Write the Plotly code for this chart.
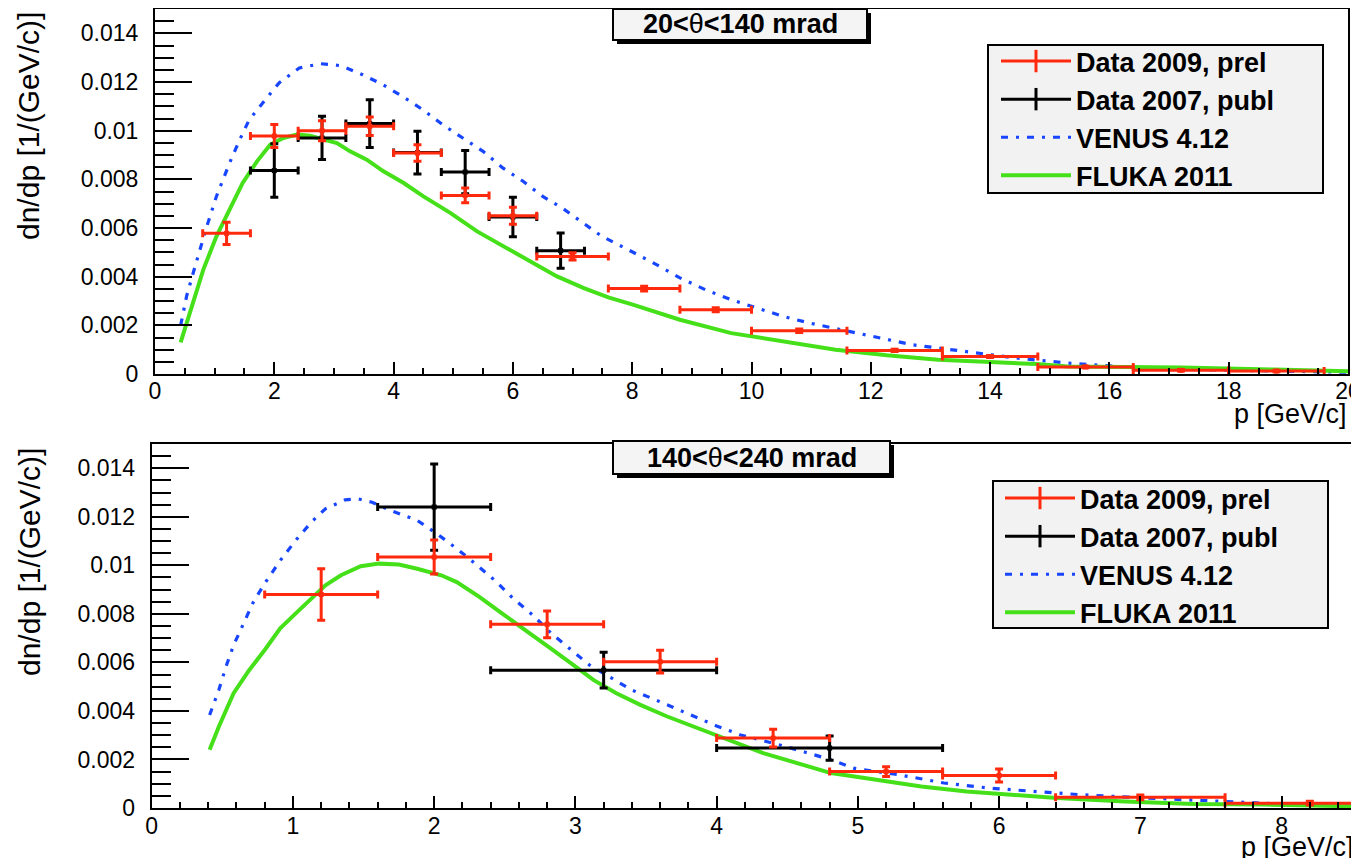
import plotly.graph_objects as go

W, H = 1359, 858          # browser window
OFF = 8                   # default body margin of the written page
FW, FH = W - OFF, H - OFF  # figure size so that it ends at the window edge
FONT = "Liberation Sans, Arial, Helvetica, sans-serif"
RED = "#ff2a0d"
BLACK = "#000000"
BLUE = "#1846ff"
GREEN = "#46e01a"

# ---------------- top panel: 20<theta<140 mrad ----------------
top_red_p = [1.2, 2.0, 2.8, 3.6, 4.4, 5.2, 6.0, 7.0, 8.2, 9.4, 10.8, 12.4, 14.0, 15.6, 17.2, 18.8]
top_red_dp = [0.4, 0.4, 0.4, 0.4, 0.4, 0.4, 0.4, 0.6, 0.6, 0.6, 0.8, 0.8, 0.8, 0.8, 0.8, 0.8]
top_red_v = [0.00578, 0.00978, 0.0100, 0.01018, 0.00908, 0.00734, 0.0065, 0.00483, 0.00351,
             0.00264, 0.00178, 0.00097, 0.00072, 0.00029, 0.00015, 0.00012]
top_red_dv = [0.00046, 0.00047, 0.00041, 0.00038, 0.00034, 0.0003, 0.00035, 0.00015, 0.0001,
              0.00008, 0.00007, 0.00005, 0.00004, 0.00003, 0.00003, 0.00003]

top_blk_p = [2.0, 2.8, 3.6, 4.4, 5.2, 6.0, 6.8]
top_blk_dp = [0.4, 0.4, 0.4, 0.4, 0.4, 0.4, 0.4]
top_blk_v = [0.00836, 0.0097, 0.01029, 0.0091, 0.0083, 0.00645, 0.00507]
top_blk_dv = [0.0011, 0.00089, 0.00098, 0.00088, 0.00089, 0.00081, 0.00072]

top_venus_p = [0.43, 0.53, 0.64, 0.75, 0.86, 1.03, 1.25, 1.42, 1.58, 1.86, 2.08, 2.42, 2.78, 3.12,
               3.48, 3.82, 4.15, 4.49, 4.82, 5.16, 5.5, 5.83, 6.17, 6.5, 6.84, 7.18, 7.49, 7.93,
               8.36, 8.8, 9.23, 9.66, 10.1, 10.53, 10.96, 11.49, 12.0, 12.7, 13.57, 14.43, 15.3,
               16.17, 17.47, 18.77, 20.0]
top_venus_v = [0.0020, 0.0032, 0.00415, 0.0051, 0.0060, 0.0073, 0.00867, 0.00963, 0.01045, 0.0113,
               0.01196, 0.01258, 0.01275, 0.01267, 0.0123, 0.01189, 0.01141, 0.01086, 0.01025,
               0.0097, 0.00915, 0.00847, 0.00792, 0.0073, 0.0068, 0.0062, 0.00566, 0.00511,
               0.00456, 0.00395, 0.00346, 0.00305, 0.00271, 0.00237, 0.0021, 0.00182, 0.00155,
               0.0012, 0.00093, 0.00066, 0.00045, 0.00031, 0.00018, 0.00011, 0.00007]

top_fluka_p = [0.43, 0.53, 0.64, 0.81, 1.03, 1.25, 1.47, 1.71, 1.93, 2.15, 2.38, 2.6, 2.82, 3.05,
               3.27, 3.55, 3.83, 4.17, 4.5, 4.95, 5.4, 5.84, 6.29, 6.74, 7.19, 7.6, 8.01, 8.8,
               9.66, 10.53, 11.41, 12.27, 13.13, 14.0, 14.78, 15.3, 17.2, 18.77, 20.0]
top_fluka_v = [0.0013, 0.0021, 0.00305, 0.00429, 0.00566, 0.00675, 0.00785, 0.00874, 0.00942,
               0.0097, 0.00984, 0.00979, 0.00966, 0.00949, 0.00915, 0.00881, 0.00833, 0.00785,
               0.0073, 0.00662, 0.00586, 0.00524, 0.00463, 0.00401, 0.00353, 0.00315, 0.00285,
               0.00223, 0.00168, 0.00134, 0.0010, 0.00077, 0.00059, 0.00049, 0.00041, 0.00031,
               0.00027, 0.00018, 0.00011]

# ---------------- bottom panel: 140<theta<240 mrad ----------------
bot_red_p = [1.2, 2.0, 2.8, 3.6, 4.4, 5.2, 6.0, 7.0, 8.2]
bot_red_dp = [0.4, 0.4, 0.4, 0.4, 0.4, 0.4, 0.4, 0.6, 0.6]
bot_red_v = [0.0088, 0.01034, 0.00757, 0.00603, 0.00288, 0.0015, 0.00134, 0.00044, 0.0002]
bot_red_dv = [0.00106, 0.0007, 0.00055, 0.00047, 0.00037, 0.0002, 0.00027, 0.0001, 0.00008]

bot_blk_p = [2.0, 3.2, 4.8]
bot_blk_dp = [0.4, 0.8, 0.8]
bot_blk_v = [0.0124, 0.00568, 0.00247]
bot_blk_dv = [0.00178, 0.00074, 0.0005]

bot_venus_p = [0.41, 0.475, 0.53, 0.58, 0.65, 0.72, 0.8, 0.91, 1.02, 1.13, 1.23, 1.37, 1.46, 1.56,
               1.69, 1.88, 2.02, 2.16, 2.29, 2.43, 2.56, 2.7, 2.83, 2.97, 3.1, 3.24, 3.4, 3.57,
               3.73, 3.89, 4.0, 4.17, 4.49, 4.81, 4.97, 5.29, 5.61, 5.93, 6.25, 6.57, 7.05, 7.54,
               8.02, 8.52]
bot_venus_v = [0.00383, 0.00486, 0.00589, 0.00671, 0.0076, 0.00849, 0.00925, 0.0102, 0.01103,
               0.01178, 0.01233, 0.0127, 0.01274, 0.0126, 0.01226, 0.01185, 0.0113, 0.01069,
               0.01007, 0.00938, 0.00863, 0.00794, 0.00719, 0.00651, 0.00589, 0.00541, 0.00486,
               0.00445, 0.00404, 0.00363, 0.00338, 0.00301, 0.00253, 0.00199, 0.00164, 0.00137,
               0.00103, 0.00082, 0.00068, 0.00055, 0.00041, 0.00027, 0.00016, 0.00011]

bot_fluka_p = [0.41, 0.475, 0.58, 0.69, 0.8, 0.91, 1.02, 1.13, 1.23, 1.34, 1.48, 1.61, 1.75, 1.88,
               2.05, 2.16, 2.32, 2.48, 2.64, 2.81, 2.97, 3.13, 3.29, 3.46, 3.65, 3.84, 4.0, 4.2,
               4.33, 4.81, 5.13, 5.45, 5.77, 6.09, 6.41, 6.89, 7.38, 7.86, 8.52]
bot_fluka_v = [0.0024, 0.00335, 0.00473, 0.00568, 0.00651, 0.0074, 0.00802, 0.00863, 0.00918,
               0.00959, 0.00996, 0.01007, 0.01003, 0.00986, 0.00959, 0.00931, 0.0087, 0.00802,
               0.00733, 0.00664, 0.00596, 0.00527, 0.00473, 0.00425, 0.00377, 0.00335, 0.00298,
               0.00255, 0.00226, 0.00144, 0.00116, 0.00089, 0.00068, 0.00055, 0.00041, 0.00027,
               0.00016, 0.00014, 0.00007]

# ---------------- axis ticks / labels ----------------
y_tickvals = [0, 0.002, 0.004, 0.006, 0.008, 0.010, 0.012, 0.014]
y_ticktext = ["0", "0.002", "0.004", "0.006", "0.008", "0.01", "0.012", "0.014"]
top_x_tickvals = [0, 2, 4, 6, 8, 10, 12, 14, 16, 18, 20]
top_x_ticktext = ["0", "2", "4", "6", "8", "10", "12", "14", "16", "18", "20"]
bot_x_tickvals = [0, 1, 2, 3, 4, 5, 6, 7, 8]
bot_x_ticktext = ["0", "1", "2", "3", "4", "5", "6", "7", "8"]

series_names = ["Data 2009, prel", "Data 2007, publ", "VENUS 4.12", "FLUKA 2011"]
panel_titles = ["20<θ<140 mrad", "140<θ<240 mrad"]
y_title = "dn/dp [1/(GeV/c)]"
x_title = "p [GeV/c]"


def clamp(v):
    return max(0.0, min(1.0, v))


def px_x(p):
    """window pixel (from left) -> paper fraction"""
    return (p - OFF) / FW


def px_y(p):
    """window pixel (from top) -> paper fraction"""
    return 1 - (p - OFF) / FH


fig = go.Figure()


def add_panel(xa, ya, leg, red, blk, venus, fluka, tag):
    # model curves
    fig.add_trace(go.Scatter(x=venus[0], y=venus[1], mode="lines", xaxis=xa, yaxis=ya,
                             line=dict(color=BLUE, width=3.2, dash="7px,8px,3px,8px"),
                             name=series_names[2], legend=leg, legendrank=3,
                             legendgroup=tag + "v"))
    fig.add_trace(go.Scatter(x=fluka[0], y=fluka[1], mode="lines", xaxis=xa, yaxis=ya,
                             line=dict(color=GREEN, width=4),
                             name=series_names[3], legend=leg, legendrank=4,
                             legendgroup=tag + "f"))
    # data with error bars (black first, red on top)
    for (p, dp, v, dv), col in ((blk, BLACK), (red, RED)):
        fig.add_trace(go.Scatter(
            x=p, y=v, mode="markers", xaxis=xa, yaxis=ya, showlegend=False,
            marker=dict(color=col, size=5, symbol="square"),
            error_x=dict(type="data", array=dp, color=col, thickness=3, width=4),
            error_y=dict(type="data", array=dv, color=col, thickness=3, width=4),
            cliponaxis=True))
    # legend entries for the data (cross-like symbols)
    for name, col, rank in ((series_names[0], RED, 1), (series_names[1], BLACK, 2)):
        fig.add_trace(go.Scatter(
            x=[None], y=[None], mode="lines+markers", xaxis=xa, yaxis=ya,
            line=dict(color=col, width=3),
            marker=dict(symbol="line-ns-open", size=16, color=col, line=dict(color=col, width=3)),
            name=name, legend=leg, legendrank=rank, legendgroup=tag + str(rank)))


add_panel("x", "y", "legend",
          (top_red_p, top_red_dp, top_red_v, top_red_dv),
          (top_blk_p, top_blk_dp, top_blk_v, top_blk_dv),
          (top_venus_p, top_venus_v), (top_fluka_p, top_fluka_v), "t")
add_panel("x2", "y2", "legend2",
          (bot_red_p, bot_red_dp, bot_red_v, bot_red_dv),
          (bot_blk_p, bot_blk_dp, bot_blk_v, bot_blk_dv),
          (bot_venus_p, bot_venus_v), (bot_fluka_p, bot_fluka_v), "b")

common_axis = dict(showline=True, linewidth=2, linecolor="black", mirror=True,
                   showgrid=False, zeroline=False, ticks="inside", tickcolor="black",
                   tickwidth=2, automargin=False, ticklabeloverflow="allow",
                   tickfont=dict(family=FONT, size=23, color="black"))

legend_font = dict(family=FONT, size=27, color="black", weight="bold")

fig.update_layout(
    template="none",
    width=FW, height=FH,
    margin=dict(l=0, r=0, t=0, b=0, pad=0),
    paper_bgcolor="white", plot_bgcolor="white",
    showlegend=True,
    xaxis=dict(common_axis, domain=[clamp(px_x(155)), clamp(px_x(1348))], range=[0, 20],
               anchor="y", tickvals=top_x_tickvals, ticktext=top_x_ticktext, ticklen=12,
               ticklabelstandoff=-5,
               minor=dict(ticks="inside", ticklen=6, tickwidth=2, tickcolor="black", dtick=0.5)),
    yaxis=dict(common_axis, domain=[clamp(px_y(374)), clamp(px_y(9))], range=[0, 0.0150],
               anchor="x", tickvals=y_tickvals, ticktext=y_ticktext, ticklen=37,
               ticklabelstandoff=10,
               minor=dict(ticks="inside", ticklen=19, tickwidth=2, tickcolor="black", dtick=0.0005)),
    xaxis2=dict(common_axis, domain=[clamp(px_x(151.7)), clamp(px_x(1355))], range=[0, 8.52],
                anchor="y2", tickvals=bot_x_tickvals, ticktext=bot_x_ticktext, ticklen=12,
                ticklabelstandoff=-4,
                minor=dict(ticks="inside", ticklen=6, tickwidth=2, tickcolor="black", dtick=0.2)),
    yaxis2=dict(common_axis, domain=[clamp(px_y(808)), clamp(px_y(444))], range=[0, 0.0150],
                anchor="x2", tickvals=y_tickvals, ticktext=y_ticktext, ticklen=37,
                ticklabelstandoff=10,
                minor=dict(ticks="inside", ticklen=19, tickwidth=2, tickcolor="black", dtick=0.0005)),
    legend=dict(x=px_x(996), y=px_y(37), xanchor="left", yanchor="top",
                bgcolor="rgba(0,0,0,0)", borderwidth=0, traceorder="grouped",
                tracegroupgap=0, itemwidth=70, font=legend_font),
    legend2=dict(x=px_x(1000), y=px_y(474), xanchor="left", yanchor="top",
                 bgcolor="rgba(0,0,0,0)", borderwidth=0, traceorder="grouped",
                 tracegroupgap=0, itemwidth=70, font=legend_font),
)

shapes = []
annotations = []
# legend boxes
for (x0, y0, x1, y1) in ((988, 45, 1323, 193), (993, 481, 1328, 628)):
    shapes.append(dict(type="rect", xref="paper", yref="paper", layer="above",
                       x0=px_x(x0), x1=px_x(x1), y0=px_y(y1), y1=px_y(y0),
                       fillcolor="#f2f2f2", line=dict(color="black", width=2)))
# title boxes with drop shadow
for title, (x0, y0, x1, y1) in zip(panel_titles, ((613, 9, 867, 40), (613, 441, 890, 474))):
    shapes.append(dict(type="rect", xref="paper", yref="paper", layer="above",
                       x0=px_x(x0 + 4), x1=px_x(x1 + 4), y0=px_y(y1 + 4), y1=px_y(y0 + 4),
                       fillcolor="black", line=dict(width=0)))
    shapes.append(dict(type="rect", xref="paper", yref="paper", layer="above",
                       x0=px_x(x0), x1=px_x(x1), y0=px_y(y1), y1=px_y(y0),
                       fillcolor="#f4f4f4", line=dict(color="black", width=2)))
    t = title.replace("θ", "<span style='font-weight:normal'>θ</span>")
    annotations.append(dict(text=t, xref="paper", yref="paper", showarrow=False,
                            x=px_x((x0 + x1) / 2), y=px_y((y0 + y1) / 2),
                            xanchor="center", yanchor="middle",
                            font=dict(family=FONT, size=27, color="black", weight="bold")))
# axis titles
for ytop in (10, 446):
    annotations.append(dict(text=y_title, xref="paper", yref="paper", showarrow=False,
                            textangle=-90, x=px_x(29), y=px_y(ytop),
                            xanchor="center", yanchor="top",
                            font=dict(family=FONT, size=30, color="black")))
for xr, yc in ((1349, 414), (1356, 847)):
    annotations.append(dict(text=x_title, xref="paper", yref="paper", showarrow=False,
                            x=px_x(xr), y=px_y(yc), xanchor="right", yanchor="middle",
                            font=dict(family=FONT, size=27, color="black")))

fig.update_layout(shapes=shapes, annotations=annotations)
fig.write_html("out.html")
